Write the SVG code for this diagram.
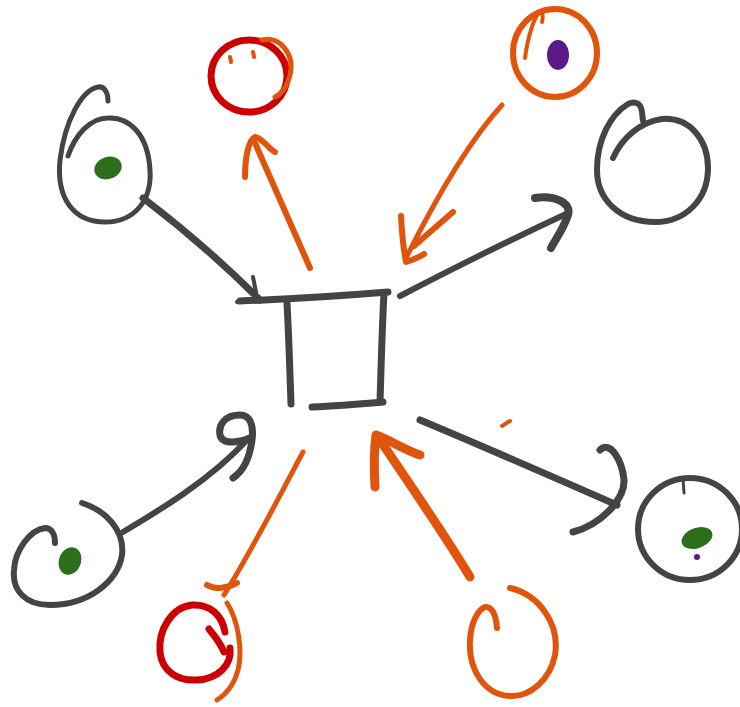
<svg xmlns="http://www.w3.org/2000/svg" width="740" height="707" viewBox="0 0 740 707">
<style>
.s{fill:none;stroke-linecap:round;stroke-linejoin:round}
.g{stroke:#444444}
.o{stroke:#e0540c}
.r{stroke:#cc0000}
</style>
<rect width="740" height="707" fill="#ffffff"/>
<g id="center-square" class="s g" stroke-width="7">
<path d="M240 301 C290 299 340 296 388 292"/>
<path d="M287 303 C289 340 290 375 291 404"/>
<path d="M384 293 C382 330 381 370 380 402"/>
<path d="M312 407 C335 406 360 404 383 402"/>
</g>
<g id="node-top-left">
<path d="M108 101 C108 92 104 86 98 87 C82 90 65 120 60 160 C56 200 75 222 105 222 C135 222 152 200 150 170 C148 135 130 117 108 118 C90 118 75 135 68 156" class="s g" stroke-width="5"/>
<ellipse cx="108" cy="168" rx="14" ry="11" transform="rotate(-20 108 168)" fill="#2d6e1a"/>
</g>
<g id="node-top-red">
<ellipse cx="249" cy="76" rx="38" ry="36" class="s r" stroke-width="7"/>
<path d="M262 40 C280 35 295 55 290 75 C287 88 280 95 275 97" class="s o" stroke-width="5"/>
<path d="M230 57 L231 62 M253 52 L254 57" class="s o" stroke-width="4"/>
</g>
<g id="node-top-orange">
<ellipse cx="555" cy="53" rx="42" ry="44" class="s o" stroke-width="6"/>
<path d="M525 58 C528 35 535 15 540 12 C543 13 543 18 542 22" class="s o" stroke-width="4"/>
<ellipse cx="558" cy="55" rx="11" ry="15" fill="#5a1a8a"/>
</g>
<g id="node-top-right">
<path d="M613 158 C622 138 640 122 662 119 C690 117 708 140 708 168 C708 200 685 222 655 222 C620 222 597 200 597 170 C597 140 610 115 628 104 C636 100 641 104 642 112 L643 121" class="s g" stroke-width="6"/>
</g>
<g id="node-bottom-left">
<path d="M82 503 C105 510 125 530 122 555 C118 580 90 605 50 605 C25 605 12 590 14 570 C15 550 30 530 45 528 C52 528 55 535 55 543" class="s g" stroke-width="6"/>
<ellipse cx="70" cy="561" rx="11" ry="14" transform="rotate(20 70 561)" fill="#2d6e1a"/>
</g>
<g id="node-bottom-red">
<path d="M225 632 C222 615 210 604 192 605 C172 607 158 630 160 652 C162 672 178 681 197 680 C218 679 232 665 230 648" class="s r" stroke-width="7"/>
<path d="M209 629 C214 635 220 642 224 652" class="s r" stroke-width="7"/>
</g>
<g id="node-bottom-orange">
<path d="M510 588 C540 595 560 625 555 655 C550 680 530 697 510 696 C485 695 468 670 470 640 C471 622 478 610 485 607 C492 606 496 615 497 628" class="s o" stroke-width="6"/>
</g>
<g id="node-bottom-right">
<ellipse cx="690" cy="529" rx="52" ry="51" class="s g" stroke-width="6"/>
<path d="M683 478 L684 493" class="s g" stroke-width="3"/>
<ellipse cx="697" cy="538" rx="16" ry="10" transform="rotate(-20 697 538)" fill="#2d6e1a"/>
<circle cx="697" cy="557" r="3" fill="#5a1a8a"/>
</g>
<g id="connectors">
<path d="M143 198 C185 230 225 265 260 300" class="s g" stroke-width="7"/>
<path d="M253 277 L256 292 M237 302 L258 300" class="s g" stroke-width="4"/>
<path d="M310 268 L255 143" class="s o" stroke-width="6"/>
<path d="M245 177 C245 160 248 140 255 137 C262 138 268 148 275 152" class="s o" stroke-width="6"/>
<path d="M502 105 C470 140 440 190 406 258" class="s o" stroke-width="5"/>
<path d="M401 216 C402 235 404 252 406 262 C412 260 418 258 424 254 M453 212 L414 246" class="s o" stroke-width="6"/>
<path d="M400 296 C450 270 510 240 566 214" class="s g" stroke-width="6"/>
<path d="M535 198 C555 195 572 203 568 215 C563 230 555 240 551 248" class="s g" stroke-width="8"/>
<path d="M123 532 C160 510 210 480 247 440" class="s g" stroke-width="6"/>
<path d="M233 478 C245 470 250 455 252 440 C254 425 250 415 240 415 C225 415 218 425 220 435 C222 445 240 443 252 437" class="s g" stroke-width="7"/>
<path d="M303 452 C280 495 255 545 224 595" class="s o" stroke-width="5"/>
<path d="M207 585 C215 590 228 588 237 583" class="s o" stroke-width="6"/>
<path d="M227 603 C238 620 243 650 238 670 C234 685 225 695 217 700" class="s o" stroke-width="5"/>
<path d="M470 577 C445 535 410 485 378 437" class="s o" stroke-width="9"/>
<path d="M375 487 C374 470 374 450 376 435 C390 440 405 450 420 455" class="s o" stroke-width="9"/>
<path d="M502 426 L510 421" class="s o" stroke-width="4"/>
<path d="M420 420 C480 445 560 480 617 505" class="s g" stroke-width="7"/>
<path d="M600 450 C610 440 622 460 624 480 C625 500 600 525 573 532" class="s g" stroke-width="7"/>
</g>
</svg>
